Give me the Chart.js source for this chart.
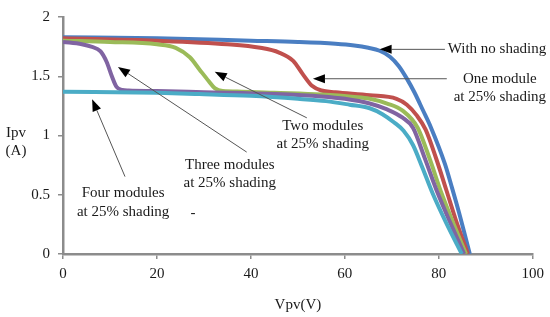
<!DOCTYPE html>
<html><head><meta charset="utf-8">
<script src="https://cdn.jsdelivr.net/npm/chart.js@4.4.1/dist/chart.umd.min.js"></script>
<style>html,body{margin:0;padding:0;background:#fff;}</style>
</head><body>
<canvas id="c" width="550" height="317" style="width:550px;height:317px;display:block"></canvas>
<script>
// ---- Data ----
const noShadeV = [0, 20, 40, 50, 58, 62, 65, 67.4, 69.6, 71.5, 73.2, 74.8, 76.6, 78.3, 81.3, 82.8, 84.3, 86.6];
const noShadeI = [1.83, 1.82, 1.80, 1.79, 1.775, 1.76, 1.74, 1.715, 1.665, 1.585, 1.48, 1.365, 1.215, 1.07, 0.76, 0.56, 0.35, 0];

const oneModV = [0, 20, 35, 42, 46, 49, 51, 53, 55, 58, 65.3, 71, 73.2, 75.3, 77.2, 79.4, 81.6, 83.6, 86.2];
const oneModI = [1.82, 1.80, 1.77, 1.74, 1.70, 1.63, 1.52, 1.42, 1.38, 1.365, 1.34, 1.31, 1.26, 1.17, 1.05, 0.81, 0.54, 0.29, 0];

const twoModV = [0, 10, 20, 24, 27, 29, 31, 32.3, 34, 38, 45, 55, 62, 65.3, 69, 72.3, 75.5, 78, 80.6, 83.2, 85.8];
const twoModI = [1.80, 1.79, 1.77, 1.74, 1.66, 1.56, 1.46, 1.40, 1.375, 1.37, 1.36, 1.345, 1.325, 1.31, 1.27, 1.21, 1.066, 0.81, 0.51, 0.25, 0];

const threeModV = [0, 4, 6, 8, 9.3, 10.4, 11.4, 12.6, 14, 20, 30, 45, 55, 60, 65.3, 69, 72.3, 74.5, 77, 79.8, 82.6, 85.4];
const threeModI = [1.79, 1.77, 1.75, 1.71, 1.62, 1.50, 1.41, 1.385, 1.38, 1.375, 1.365, 1.35, 1.33, 1.31, 1.27, 1.22, 1.15, 1.066, 0.81, 0.51, 0.25, 0];

const fourModV = [0, 20, 29, 40, 50, 56, 61, 65.3, 68, 70.5, 72.5, 74.5, 76.5, 78.7, 81.6, 84.9];
const fourModI = [1.37, 1.36, 1.35, 1.335, 1.31, 1.29, 1.26, 1.23, 1.18, 1.11, 1.04, 0.92, 0.73, 0.51, 0.26, 0];

const seriesNames = ['With no shading', 'One module at 25% shading', 'Two modules at 25% shading', 'Three modules at 25% shading', 'Four modules at 25% shading'];
const xTickLabels = ['0', '20', '40', '60', '80', '100'];
const yTickLabels = ['0', '0.5', '1', '1.5', '2'];
const xTitle = 'Vpv(V)';
const yTitle = ['Ipv', '(A)'];

// ---- Styling / annotation config ----
const colors = ['#4a7ec2', '#c0504d', '#9bbb59', '#8064a2', '#4bacc6'];
const FONT = '"Liberation Serif", "Times New Roman", serif';

const annotations = [
  { lines: ['With no shading'], tV: 81.9, tI: 1.727, align: 'left', tip: [67.4, 1.727], tail: [81.3, 1.727] },
  { lines: ['One module', 'at 25% shading'], tV: 93.0, tI: 1.479, align: 'center', tip: [53.2, 1.479], tail: [81.7, 1.479] },
  { lines: ['Two modules', 'at 25% shading'], tV: 55.3, tI: 1.083, align: 'center', tip: [32.3, 1.537], tail: [51.9, 1.149] },
  { lines: ['Three modules', 'at 25% shading'], tV: 35.5, tI: 0.752, align: 'center', tip: [11.7, 1.579], tail: [39.1, 0.86] },
  { lines: ['Four modules', 'at 25% shading'], tV: 12.8, tI: 0.512, align: 'center', tip: [6.2, 1.306], tail: [13.2, 0.653] },
  { lines: ['-'], tV: 27.7, tI: 0.345, align: 'center' }
];

function pts(vs, is) { return vs.map((v, k) => ({ x: v, y: is[k] })); }

const seriesData = [
  pts(noShadeV, noShadeI), pts(oneModV, oneModI), pts(twoModV, twoModI),
  pts(threeModV, threeModI), pts(fourModV, fourModI)
];

const annotPlugin = {
  id: 'annot',
  afterDraw(chart) {
    const ctx = chart.ctx, xs = chart.scales.x, ys = chart.scales.y;
    ctx.save();
    ctx.font = '15px ' + FONT;
    ctx.fillStyle = '#1a1a1a';
    ctx.textBaseline = 'middle';
    const lh = 18.5;
    annotations.forEach(a => {
      ctx.textAlign = a.align;
      const tx = xs.getPixelForValue(a.tV), ty = ys.getPixelForValue(a.tI);
      a.lines.forEach((l, k) => ctx.fillText(l, tx, ty + k * lh));
      if (a.tip) {
        const x1 = xs.getPixelForValue(a.tail[0]), y1 = ys.getPixelForValue(a.tail[1]);
        const x2 = xs.getPixelForValue(a.tip[0]), y2 = ys.getPixelForValue(a.tip[1]);
        const ang = Math.atan2(y2 - y1, x2 - x1);
        const L = 12, W = 4.5;
        const bx = x2 - L * Math.cos(ang), by = y2 - L * Math.sin(ang);
        ctx.strokeStyle = '#555';
        ctx.lineWidth = 1;
        ctx.beginPath(); ctx.moveTo(x1, y1); ctx.lineTo(bx, by); ctx.stroke();
        ctx.fillStyle = '#000';
        ctx.beginPath();
        ctx.moveTo(x2, y2);
        ctx.lineTo(bx + W * Math.sin(ang), by - W * Math.cos(ang));
        ctx.lineTo(bx - W * Math.sin(ang), by + W * Math.cos(ang));
        ctx.closePath(); ctx.fill();
        ctx.fillStyle = '#1a1a1a';
      }
    });
    // axis titles
    ctx.textAlign = 'center';
    const ca = chart.chartArea;
    const yMid = ys.getPixelForValue(1);
    ctx.fillText(yTitle[0], 16, yMid - 2);
    ctx.fillText(yTitle[1], 16, yMid + 16);
    ctx.fillText(xTitle, (ca.left + ca.right) / 2, 305);
    ctx.restore();
  }
};

new Chart(document.getElementById('c'), {
  type: 'scatter',
  data: {
    datasets: seriesData.map((d, k) => ({
      label: seriesNames[k],
      data: d,
      showLine: true,
      borderColor: colors[k],
      backgroundColor: colors[k],
      borderWidth: 4,
      pointRadius: 0,
      cubicInterpolationMode: 'monotone',
      fill: false,
      order: 5 - k
    }))
  },
  options: {
    responsive: false,
    animation: false,
    devicePixelRatio: 1,
    layout: { padding: { top: 12, right: 17, left: 0, bottom: 0 } },
    plugins: { legend: { display: false }, tooltip: { enabled: false } },
    scales: {
      x: {
        type: 'linear', min: 0, max: 100,
        afterFit(s) { s.height = 63; },
        grid: { display: true, drawOnChartArea: false, drawTicks: true, tickLength: 5, color: '#8c8c8c', lineWidth: 1.5 },
        border: { display: true, color: '#8c8c8c', width: 2.5 },
        ticks: { stepSize: 20, padding: 6, color: '#1a1a1a', font: { family: FONT, size: 15 },
          callback: (v, i) => xTickLabels[i] }
      },
      y: {
        type: 'linear', min: 0, max: 2,
        afterFit(s) { s.width = 63; },
        grid: { display: true, drawOnChartArea: false, drawTicks: true, tickLength: 5, color: '#8c8c8c', lineWidth: 1.5 },
        border: { display: true, color: '#8c8c8c', width: 2.5 },
        ticks: { stepSize: 0.5, padding: 8, color: '#1a1a1a', font: { family: FONT, size: 15 },
          callback: (v, i) => yTickLabels[i] }
      }
    }
  },
  plugins: [annotPlugin]
});
</script>
</body></html>
